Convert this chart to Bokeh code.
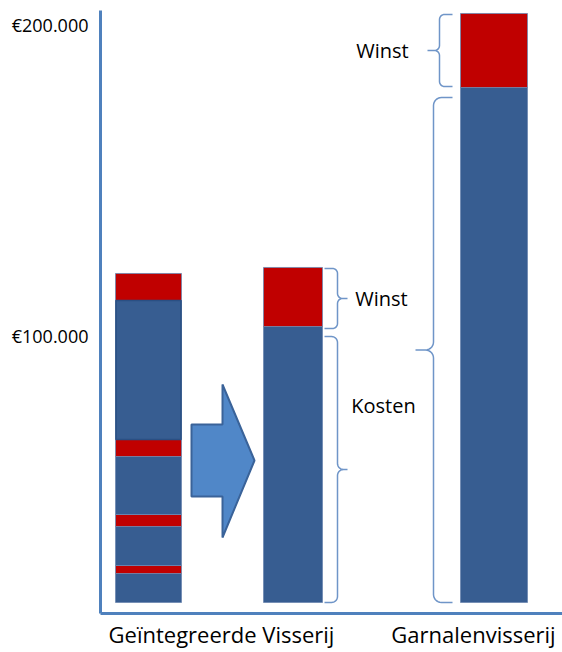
import numpy as np
from bokeh.plotting import figure
from bokeh.models import Range1d, FixedTicker, ColumnDataSource
from bokeh.core.properties import value
from bokeh.embed import file_html
from bokeh.resources import INLINE

# ---------------- data ----------------
categories = ["Geïntegreerde Visserij", "Garnalenvisserij"]
ytick_values = [100000, 200000]
ytick_labels = ["€100.000", "€200.000"]
base = 14150
# bar 1 (before): stacked segment edges, bottom to top, and their kind
bar1_edges = [14150, 23470, 26050, 38590, 42440, 61090, 66560, 111250, 119940]
bar1_kinds = ["Kosten", "Winst", "Kosten", "Winst", "Kosten", "Winst", "Kosten", "Winst"]
# bar 2 (after integration)
bar2_kosten = 102890
bar2_winst = 121870
# bar 3 (shrimp fishery)
bar3_kosten = 179740
bar3_winst = 203540
segment_labels = ["Kosten", "Winst"]

BLUE = "#375d91"
RED = "#c00000"
AXIS = "#4f81bd"
BRACE = "#6f95c8"
FONT = "Open Sans"

K = 100000 / 311.0          # value units per screen pixel
y_lo = 100000 - 278 * K     # frame bottom
y_hi = 200000 + 14 * K      # frame top

p = figure(width=562, height=652, output_backend="svg", toolbar_location=None,
           x_range=Range1d(0, 462), y_range=Range1d(y_lo, y_hi),
           min_border_left=100, min_border_right=0, min_border_top=10,
           min_border_bottom=39)
p.outline_line_color = None
p.grid.visible = False
p.background_fill_color = "white"
p.border_fill_color = "white"

# axes
p.yaxis.ticker = FixedTicker(ticks=ytick_values)
p.yaxis.major_label_overrides = {v: l for v, l in zip(ytick_values, ytick_labels)}
p.yaxis.axis_line_color = AXIS
p.yaxis.axis_line_width = 3
p.yaxis.major_tick_line_color = None
p.yaxis.minor_tick_line_color = None
p.yaxis.major_tick_out = 0
p.yaxis.major_label_standoff = 12
p.yaxis.major_label_text_font = FONT
p.yaxis.major_label_text_font_size = "18px"
p.yaxis.major_label_text_color = "black"

cat_pos = [121, 373]
p.xaxis.ticker = FixedTicker(ticks=cat_pos)
p.xaxis.major_label_overrides = {v: l for v, l in zip(cat_pos, categories)}
p.xaxis.axis_line_color = AXIS
p.xaxis.axis_line_width = 3
p.xaxis.major_tick_line_color = None
p.xaxis.minor_tick_line_color = None
p.xaxis.major_tick_out = 0
p.xaxis.major_label_standoff = 5
p.xaxis.major_label_text_font = FONT
p.xaxis.major_label_text_font_size = "22px"
p.xaxis.major_label_text_color = "black"

# ---------------- bars ----------------
colors = {"Kosten": BLUE, "Winst": RED}
L, R, B, T, C = [], [], [], [], []
for i, kind in enumerate(bar1_kinds):
    L.append(15); R.append(81); B.append(bar1_edges[i]); T.append(bar1_edges[i + 1]); C.append(colors[kind])
for (l, r, k_top, w_top) in [(163, 222, bar2_kosten, bar2_winst), (360, 427, bar3_kosten, bar3_winst)]:
    L += [l, l]; R += [r, r]; B += [base, k_top]; T += [k_top, w_top]; C += [BLUE, RED]
p.quad(left="left", right="right", bottom="bottom", top="top", fill_color="color",
       line_color="#6d88b0", line_width=0.8,
       source=ColumnDataSource(dict(left=L, right=R, bottom=B, top=T, color=C)))
# darker outline on the large upper blue block of bar 1
p.quad(left=[15.5], right=[80.5], bottom=[bar1_edges[6]], top=[bar1_edges[7]],
       fill_color=None, line_color="#2a4f83", line_width=1.5)

# ---------------- arrow ----------------
def vy(py):
    return 100000 + (335 - py) * K

ax = [91, 122, 122, 154, 122, 122, 91]
ay = [vy(v) for v in (424, 424, 384, 460, 537, 496, 496)]
p.patch(ax, ay, fill_color="#5087c8", line_color="#3a6399", line_width=2)

# ---------------- braces ----------------
def brace(x0, y_top, y_bot, w, r, tip, sign):
    xs, ys = [], []
    rk = r * K
    ym = (y_top + y_bot) / 2

    def arc(cx, cy, a0, a1):
        t = np.radians(np.linspace(a0, a1, 8))
        xs.extend(cx + r * np.cos(t)); ys.extend(cy + rk * np.sin(t))

    xs.append(0); ys.append(y_top)
    arc(w - r, y_top - rk, 90, 0)
    arc(w + r, ym + rk, 180, 270)
    xs.append(tip); ys.append(ym)
    xs.append(w + r); ys.append(ym)
    arc(w + r, ym - rk, 90, 180)
    arc(w - r, y_bot + rk, 0, -90)
    xs.append(0); ys.append(y_bot)
    return [x0 + sign * x for x in xs], ys

bx, by = [], []
for args in [
    (224, bar2_winst - 1 * K, bar2_kosten - 2 * K, 13, 5, 23, 1),
    (224, bar2_kosten - 10 * K, base, 13, 6, 23, 1),
    (352, bar3_winst - 1 * K, bar3_kosten + 1 * K, 13, 5, 25, -1),
    (352, bar3_kosten - 10 * K, base, 19, 8, 37, -1),
]:
    xx, yy = brace(*args)
    bx.append(xx); by.append(yy)
p.multi_line(bx, by, line_color=BRACE, line_width=1.5)

# ---------------- labels ----------------
p.text(x=[281, 282, 283],
       y=[(bar2_kosten + bar2_winst) / 2 - 2 * K, (bar3_kosten + bar3_winst) / 2, vy(405)],
       text=[segment_labels[1], segment_labels[1], segment_labels[0]],
       text_font=value(FONT), text_font_size="20px", text_color="black",
       text_align="center", text_baseline="middle")

open("out.html", "w").write(file_html(p, INLINE))
